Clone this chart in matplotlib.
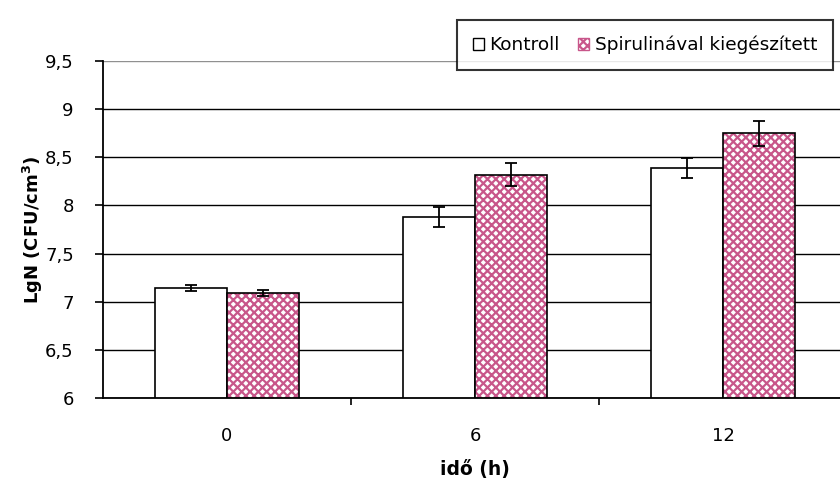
import numpy as np
import matplotlib
matplotlib.use("Agg")
import matplotlib.pyplot as plt
from matplotlib.ticker import FixedLocator, FuncFormatter
from matplotlib.patches import Patch

plt.rcParams['font.family'] = ['DejaVu Sans']
plt.rcParams['mathtext.fontset'] = 'dejavusans'
plt.rcParams['hatch.linewidth'] = 1.6

# data
time_labels = ['0', '6', '12']
kontroll = [7.14, 7.88, 8.39]
kontroll_err = [0.03, 0.10, 0.10]
spirulina = [7.09, 8.32, 8.75]
spirulina_err = [0.03, 0.12, 0.13]
series_names = ['Kontroll', 'Spirulinával kiegészített']

pink = '#c8568a'
w = 0.29
x = np.arange(len(time_labels))

fig = plt.figure(figsize=(8.4, 4.82), dpi=100)
ax = fig.add_axes([103/840, 84/482, 744/840, 337/482])

# grid lines behind the bars
ax.set_axisbelow(True)
ax.yaxis.grid(True, color='black', linewidth=1.0)
ax.set_ylim(6, 9.5)
ax.set_xlim(-0.5, 2.5)

ax.bar(x - w/2, kontroll, w, color='white', edgecolor='black',
       linewidth=1.2, zorder=2)
ax.errorbar(x - w/2, kontroll, yerr=kontroll_err, fmt='none', ecolor='black',
            elinewidth=1.3, capsize=4, capthick=1.3, zorder=4)

# hatched fill, then black outline on top
ax.bar(x + w/2, spirulina, w, color='white', edgecolor=pink, hatch='xxxx',
       linewidth=0, zorder=2)
ax.bar(x + w/2, spirulina, w, fill=False, edgecolor='black', linewidth=1.2,
       zorder=3)
ax.errorbar(x + w/2, spirulina, yerr=spirulina_err, fmt='none', ecolor='black',
            elinewidth=1.3, capsize=4, capthick=1.3, zorder=4)

yt = [6, 6.5, 7, 7.5, 8, 8.5, 9, 9.5]
ax.set_yticks(yt)
ax.yaxis.set_major_formatter(FuncFormatter(lambda v, p: ('%g' % v).replace('.', ',')))
ax.get_ygridlines()[-1].set_color('#909090')

ax.set_xticks(x)
ax.set_xticklabels(time_labels)
ax.xaxis.set_minor_locator(FixedLocator([0.5, 1.5]))
ax.tick_params(axis='x', which='major', length=0, pad=21, labelsize=13)
ax.tick_params(axis='x', which='minor', length=5, width=1.2, direction='out')
ax.tick_params(axis='y', length=6, width=1.2, direction='out', labelsize=13, pad=15)

for s in ['top', 'right']:
    ax.spines[s].set_visible(False)
ax.spines['left'].set_linewidth(1.3)
ax.spines['bottom'].set_linewidth(1.3)

ax.set_xlabel('idő (h)', fontsize=13.5, fontweight='bold', labelpad=11)
ax.set_ylabel('LgN (CFU/cm$^{\\mathbf{3}}$)', fontsize=13, fontweight='bold', labelpad=0)

# legend
handles = [Patch(facecolor='white', edgecolor='black', linewidth=1.0),
           Patch(facecolor='white', edgecolor=pink, hatch='xxxx', linewidth=1.0)]
leg = ax.legend(handles, series_names, loc='upper left',
                bbox_to_anchor=(457/840, 1 - 20/482), bbox_transform=fig.transFigure,
                ncol=2, fontsize=13.3, frameon=True, fancybox=False,
                handlelength=0.6, handleheight=0.6, handletextpad=0.3,
                columnspacing=1.0, borderpad=0.85, borderaxespad=0)
leg.get_frame().set_edgecolor('black')
leg.get_frame().set_linewidth(1.5)
leg.set_zorder(10)

fig.savefig('out.png', dpi=100)
